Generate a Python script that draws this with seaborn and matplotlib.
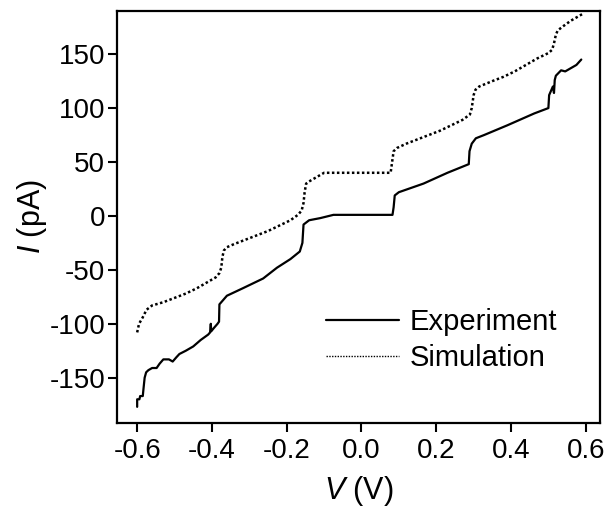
import numpy as np
import pandas as pd
import seaborn as sns
import matplotlib
matplotlib.use("Agg")
import matplotlib.pyplot as plt

# experiment curve
exp_v = [-0.600, -0.600, -0.594, -0.592, -0.585, -0.583, -0.580, -0.576, -0.570, -0.560,
         -0.548, -0.540, -0.530, -0.515, -0.505, -0.495, -0.487, -0.470, -0.450, -0.430,
         -0.410, -0.405, -0.403, -0.402, -0.395, -0.385, -0.381, -0.380, -0.370, -0.360,
         -0.317, -0.263, -0.226, -0.190, -0.165, -0.158, -0.155, -0.140, -0.110, -0.075,
         0.083, 0.086, 0.089, 0.100, 0.166, 0.230, 0.287, 0.289, 0.295, 0.306,
         0.328, 0.390, 0.462, 0.500, 0.502, 0.512, 0.515, 0.517, 0.520, 0.534,
         0.545, 0.560, 0.575, 0.588]
exp_i = [-177, -170, -170, -167, -167, -160, -150, -145, -143, -141,
         -141, -137, -133, -133, -135, -131, -128, -125, -121, -115,
         -110, -108, -100, -107, -104, -100, -98, -82, -78, -74,
         -67, -58, -48, -40, -33, -25, -8, -4, -2, 1,
         1, 8, 19, 22, 30, 40, 48, 60, 67, 72,
         75, 84, 95, 100, 112, 120, 114, 126, 130, 135,
         134, 137, 140, 145]

# simulation curve
sim_v = [-0.600, -0.595, -0.585, -0.575, -0.560, -0.530, -0.500, -0.470, -0.440, -0.410,
         -0.390, -0.380, -0.375, -0.372, -0.368, -0.360, -0.340, -0.310, -0.280, -0.250,
         -0.220, -0.190, -0.170, -0.160, -0.155, -0.152, -0.148, -0.140, -0.125, -0.110,
         -0.100, 0.078, 0.082, 0.086, 0.095, 0.120, 0.150, 0.180, 0.210, 0.240,
         0.270, 0.290, 0.295, 0.300, 0.305, 0.315, 0.350, 0.380, 0.410, 0.440,
         0.470, 0.500, 0.510, 0.515, 0.520, 0.525, 0.540, 0.560, 0.580, 0.590]
sim_i = [-108, -100, -94, -87, -83, -80, -76, -72, -67, -61,
         -57, -53, -48, -38, -32, -29, -26, -22, -18, -14,
         -9, -4, 1, 5, 12, 22, 30, 32, 35, 38,
         40, 40, 50, 60, 63, 67, 71, 75, 79, 84,
         89, 94, 100, 112, 117, 120, 125, 129, 134, 140,
         146, 151, 154, 160, 168, 172, 176, 181, 185, 187]

x_ticks = [-0.6, -0.4, -0.2, 0.0, 0.2, 0.4, 0.6]
y_ticks = [150, 100, 50, 0, -50, -100, -150]

df_exp = pd.DataFrame({"V": exp_v, "I": exp_i})
df_sim = pd.DataFrame({"V": sim_v, "I": sim_i})

sns.set_style("ticks")
plt.rcParams["font.family"] = ["Liberation Sans", "DejaVu Sans"]
plt.rcParams["mathtext.fontset"] = "custom"
plt.rcParams["mathtext.it"] = "Liberation Sans:italic"
plt.rcParams["mathtext.rm"] = "Liberation Sans"
plt.rcParams["axes.unicode_minus"] = False
plt.rcParams["text.color"] = "black"
plt.rcParams["axes.labelcolor"] = "black"

fig = plt.figure(figsize=(6.08, 5.12), dpi=100)
ax = fig.add_axes([0.1924, 0.1738, 0.7944, 0.8047])

sns.lineplot(data=df_exp, x="V", y="I", ax=ax, color="black", lw=1.6,
             sort=False, estimator=None, label="Experiment")
sns.lineplot(data=df_sim, x="V", y="I", ax=ax, color="black", lw=1.8,
             linestyle=(0, (1, 1)), sort=False, estimator=None, label="Simulation")

ax.set_xlim(-0.654, 0.638)
ax.set_ylim(-192, 190)
ax.set_xticks(x_ticks)
ax.set_xticklabels([f"{t:.1f}" for t in x_ticks])
ax.set_yticks(y_ticks)
ax.set_yticklabels([str(t) for t in y_ticks])
ax.tick_params(labelsize=20, width=1.5, length=6.5, pad=2, direction="out", colors="black")
ax.tick_params(axis="x", pad=4.5)
for s in ax.spines.values():
    s.set_linewidth(1.6)
    s.set_color("black")

ax.set_xlabel(r"$\mathit{V}$ (V)", fontsize=22, labelpad=7)
ax.set_ylabel(r"$\mathit{I}$ (pA)", fontsize=22, labelpad=0)

leg = ax.legend(loc="upper left", bbox_to_anchor=(0.433, 0.278), frameon=False,
                fontsize=21, handlelength=2.5, handletextpad=0.35,
                borderpad=0, borderaxespad=0, labelspacing=0.25)
leg.get_lines()[1].set_linewidth(1.0)

fig.savefig("out.png", dpi=100)
